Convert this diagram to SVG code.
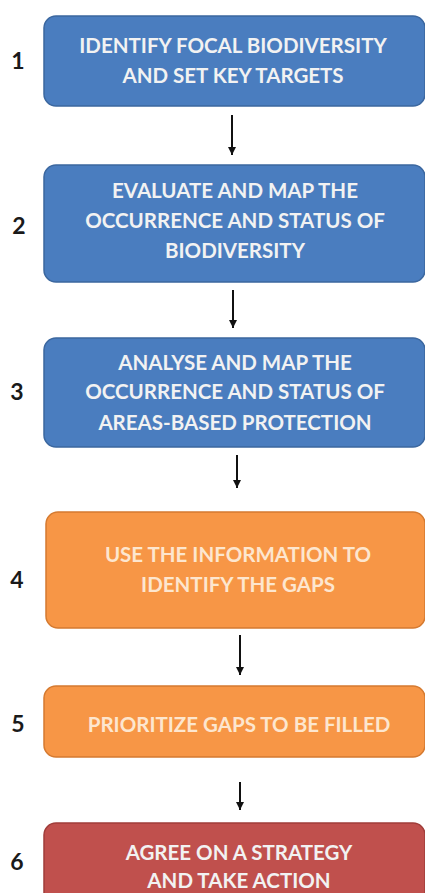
<svg xmlns="http://www.w3.org/2000/svg" width="425" height="893" viewBox="0 0 425 893">
<style>
.blue{fill:#4a7dbf;stroke:#3b679f;stroke-width:1.5}
.orange{fill:#f79646;stroke:#d57a30;stroke-width:1.5}
.red{fill:#c0504d;stroke:#a03d3a;stroke-width:1.5}
.t{font-family:Lato,"Open Sans",sans-serif;font-weight:700;font-size:20.5px;fill:#f2f2f2;text-anchor:middle}
.to{fill:#fde6cf}
.n{font-family:Lato,"Open Sans",sans-serif;font-weight:700;font-size:23px;fill:#1a1a1a;text-anchor:middle}
.c{stroke:#111;stroke-width:2;fill:none}
</style>
<defs>
<marker id="ah" markerWidth="8" markerHeight="9" refX="9" refY="4.5" orient="auto" markerUnits="userSpaceOnUse" viewBox="0 0 9 9">
<path d="M0,0 L9,4.5 L0,9 Z" fill="#111"/>
</marker>
</defs>
<rect width="425" height="893" fill="#ffffff"/>
<g id="connectors">
<line class="c" x1="232" y1="115" x2="232" y2="155" marker-end="url(#ah)"/>
<line class="c" x1="233" y1="290" x2="233" y2="328" marker-end="url(#ah)"/>
<line class="c" x1="237" y1="455" x2="237" y2="488" marker-end="url(#ah)"/>
<line class="c" x1="240" y1="635" x2="240" y2="675" marker-end="url(#ah)"/>
<line class="c" x1="240" y1="782" x2="240" y2="810" marker-end="url(#ah)"/>
</g>
<g id="node1">
<rect class="blue" x="44" y="16" width="381" height="90" rx="12"/>
<text class="n" x="18" y="69">1</text>
<text class="t" x="233" y="53">IDENTIFY FOCAL BIODIVERSITY</text>
<text class="t" x="233" y="83">AND SET KEY TARGETS</text>
</g>
<g id="node2">
<rect class="blue" x="44" y="165" width="381" height="117" rx="12"/>
<text class="n" x="19" y="234">2</text>
<text class="t" x="235" y="198">EVALUATE AND MAP THE</text>
<text class="t" x="235" y="228">OCCURRENCE AND STATUS OF</text>
<text class="t" x="235" y="258">BIODIVERSITY</text>
</g>
<g id="node3">
<rect class="blue" x="44" y="338" width="381" height="109" rx="12"/>
<text class="n" x="17" y="400">3</text>
<text class="t" x="235" y="370">ANALYSE AND MAP THE</text>
<text class="t" x="235" y="399">OCCURRENCE AND STATUS OF</text>
<text class="t" x="235" y="430">AREAS-BASED PROTECTION</text>
</g>
<g id="node4">
<rect class="orange" x="46" y="512" width="379" height="116" rx="12"/>
<text class="n" x="17" y="588">4</text>
<text class="t to" x="238" y="562">USE THE INFORMATION TO</text>
<text class="t to" x="238" y="592">IDENTIFY THE GAPS</text>
</g>
<g id="node5">
<rect class="orange" x="44" y="686" width="381" height="71" rx="12"/>
<text class="n" x="18" y="732">5</text>
<text class="t to" x="239" y="732">PRIORITIZE GAPS TO BE FILLED</text>
</g>
<g id="node6">
<rect class="red" x="44" y="823" width="381" height="90" rx="12"/>
<text class="n" x="17" y="870">6</text>
<text class="t" x="239" y="860">AGREE ON A STRATEGY</text>
<text class="t" x="239" y="888">AND TAKE ACTION</text>
</g>
</svg>
